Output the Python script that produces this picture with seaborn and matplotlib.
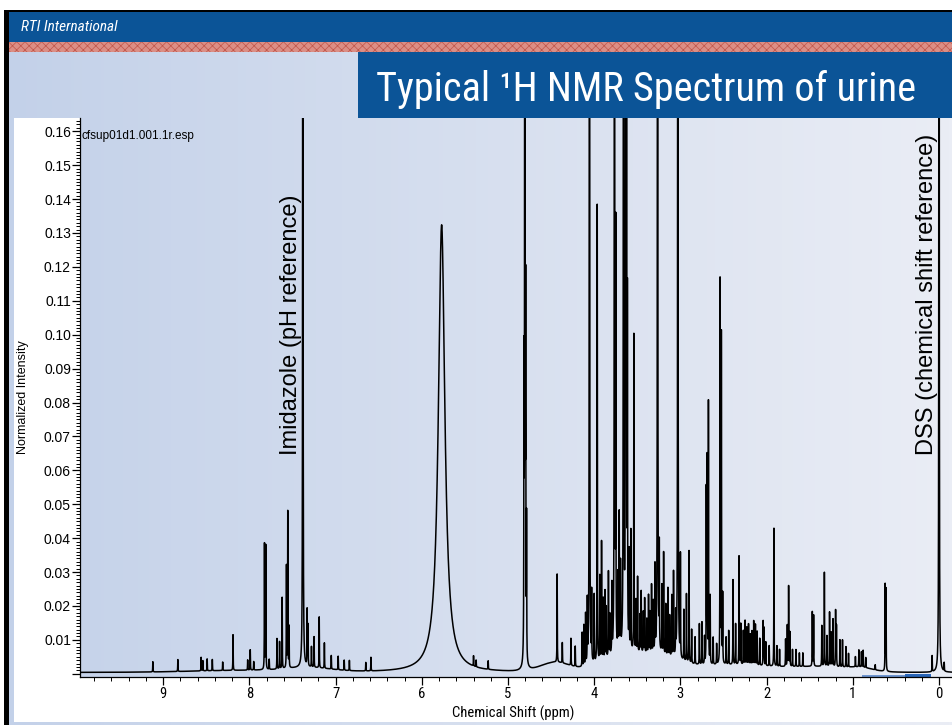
import numpy as np
import pandas as pd
import matplotlib
matplotlib.use("Agg")
import matplotlib.pyplot as plt
import seaborn as sns
from matplotlib import font_manager
from matplotlib.patches import Rectangle
from matplotlib.ticker import MultipleLocator, FixedLocator

# ---------------- data ----------------
peak_ppm = [
    9.12, 8.83, 8.56, 8.54, 8.49, 8.43, 8.31, 8.19, 8.02, 7.99, 7.95,
    7.825, 7.81, 7.77, 7.68, 7.65, 7.62, 7.57, 7.555, 7.54, 7.38, 7.33, 7.32,
    7.28, 7.25, 7.19, 7.13, 7.05, 6.97, 6.90, 6.84, 6.65, 6.59,
    5.77, 5.40, 5.37, 5.23,
    4.815, 4.805, 4.795, 4.785,
    4.43, 4.37, 4.27, 4.22, 4.14, 4.12, 4.10, 4.08, 4.055, 4.03, 4.00,
    3.965, 3.935, 3.915, 3.895, 3.875, 3.86, 3.835, 3.82, 3.795, 3.765, 3.75,
    3.725, 3.71, 3.695, 3.66, 3.635, 3.625, 3.615, 3.595, 3.575, 3.54,
    3.515, 3.497, 3.47, 3.455, 3.43, 3.415, 3.39, 3.37, 3.355, 3.335, 3.315, 3.295,
    3.265, 3.245, 3.215, 3.195, 3.17, 3.145, 3.125, 3.10, 3.08, 3.055, 3.03,
    3.00, 2.96, 2.93, 2.90, 2.87, 2.83, 2.78, 2.75, 2.72, 2.70, 2.69, 2.675,
    2.655, 2.62, 2.58, 2.54, 2.525, 2.51, 2.47, 2.44, 2.39, 2.36, 2.32, 2.30,
    2.27, 2.25, 2.23, 2.21, 2.19, 2.17, 2.15, 2.13, 2.11, 2.08, 2.04, 2.03,
    2.01, 1.97, 1.915, 1.88, 1.85, 1.78, 1.76, 1.745, 1.73, 1.70, 1.66, 1.62,
    1.58, 1.47, 1.455, 1.36, 1.33, 1.30, 1.27, 1.25, 1.23, 1.20, 1.19, 1.15,
    1.12, 1.08, 1.05, 0.97, 0.93, 0.90, 0.88, 0.85, 0.74, 0.625, 0.615,
    0.08, 0.00, -0.06,
]
peak_height = [
    0.0030, 0.0035, 0.0040, 0.0030, 0.0035, 0.0033, 0.0025, 0.0105, 0.0030, 0.0060, 0.0025,
    0.0370, 0.0365, 0.0030, 0.0090, 0.0080, 0.0210, 0.0300, 0.0460, 0.0120, 0.6000, 0.0165, 0.0120,
    0.0060, 0.0090, 0.0150, 0.0075, 0.0040, 0.0040, 0.0030, 0.0030, 0.0025, 0.0040,
    0.1320, 0.0030, 0.0020, 0.0025,
    0.0800, 0.6000, 0.1000, 0.0400,
    0.0260, 0.0060, 0.0080, 0.0060, 0.0100, 0.0120, 0.0150, 0.0180, 0.6000, 0.0200, 0.0200,
    0.1350, 0.0250, 0.0350, 0.0180, 0.0200, 0.0150, 0.0250, 0.0120, 0.0200, 0.6000, 0.1220,
    0.0220, 0.0400, 0.0250, 0.6000, 0.6000, 0.1600, 0.1000, 0.0280, 0.0350, 0.0935,
    0.0150, 0.0220, 0.0110, 0.0180, 0.0120, 0.0160, 0.0100, 0.0170, 0.0120, 0.0200, 0.0150, 0.0250,
    0.6000, 0.0300, 0.0200, 0.0300, 0.0150, 0.0200, 0.0120, 0.0180, 0.0250, 0.0120, 0.6000,
    0.0300, 0.0150, 0.0200, 0.0330, 0.0100, 0.0080, 0.0120, 0.0125, 0.0080, 0.0510, 0.0600, 0.0770,
    0.0200, 0.0080, 0.0060, 0.1130, 0.0970, 0.0200, 0.0080, 0.0100, 0.0250, 0.0120, 0.0320, 0.0120,
    0.0100, 0.0130, 0.0110, 0.0120, 0.0090, 0.0100, 0.0130, 0.0120, 0.0100, 0.0080, 0.0130, 0.0110,
    0.0070, 0.0060, 0.0407, 0.0060, 0.0050, 0.0080, 0.0120, 0.0236, 0.0100, 0.0050, 0.0050, 0.0040,
    0.0040, 0.0160, 0.0150, 0.0120, 0.0277, 0.0090, 0.0160, 0.0100, 0.0140, 0.0165, 0.0120, 0.0080,
    0.0080, 0.0060, 0.0040, 0.0030, 0.0050, 0.0045, 0.0050, 0.0030, 0.0015, 0.0253, 0.0240,
    0.0047, 0.6000, 0.0025,
]
peak_fwhm = [0.09 if p == 5.77 else 0.0035 for p in peak_ppm]

hump_ppm = [8.0, 7.3, 4.45, 3.65, 3.20, 2.40, 1.30, 0.90]
hump_height = [0.0006, 0.0010, 0.0028, 0.0050, 0.0030, 0.0022, 0.0014, 0.0008]
hump_fwhm = [1.5, 0.6, 0.4, 0.6, 0.5, 1.3, 0.8, 0.3]
baseline_offset = 0.0004

ytick_vals = [round(0.01 * i, 2) for i in range(17)]
ytick_labels = [""] + [f"{v:.2f}" for v in ytick_vals[1:]]
xtick_vals = list(range(10))

# ---------------- spectrum from the peak table ----------------
ppm = np.linspace(10.0, -0.2, 20401)
P = np.asarray(peak_ppm)[None, :]
H = np.asarray(peak_height)[None, :]
G = np.asarray(peak_fwhm)[None, :] / 2.0
X = ppm[:, None]
spec = (H * G**2 / ((X - P) ** 2 + G**2)).sum(axis=1)
HP = np.asarray(hump_ppm)[None, :]
HH = np.asarray(hump_height)[None, :]
HS = np.asarray(hump_fwhm)[None, :] / 2.3548
spec += (HH * np.exp(-0.5 * ((X - HP) / HS) ** 2)).sum(axis=1)
spec += baseline_offset
df = pd.DataFrame({"ppm": ppm, "intensity": spec})

# ---------------- fonts ----------------
sns.set_theme(style="white")
names = {f.name for f in font_manager.fontManager.ttflist}
narrow = None
for cand in ["Liberation Sans Narrow", "Roboto Condensed", "Open Sans Condensed", "Arial Narrow"]:
    if cand in names:
        narrow = cand
        break
plt.rcParams["font.family"] = ["Liberation Sans", "DejaVu Sans"]
nfam = [narrow, "Liberation Sans", "DejaVu Sans"] if narrow else ["Liberation Sans", "DejaVu Sans"]
title_size = 29 if narrow else 25.5

W, Hh = 953, 725
fig = plt.figure(figsize=(W / 100, Hh / 100), dpi=100)

# background slide (pixel coordinates)
bg = fig.add_axes([0, 0, 1, 1], zorder=0)
bg.set_xlim(0, W)
bg.set_ylim(Hh, 0)
bg.axis("off")
c_left = np.array([0xC3, 0xD1, 0xE9]) / 255
c_right = np.array([0xEA, 0xED, 0xF5]) / 255
t = np.linspace(0, 1, 256)[None, :, None]
grad = c_left[None, None, :] * (1 - t) + c_right[None, None, :] * t
bg.imshow(grad, extent=[0, W, Hh, 0], aspect="auto", zorder=0)

def rect(x0, y0, x1, y1, **kw):
    bg.add_patch(Rectangle((x0, y0), x1 - x0, y1 - y0, **kw))

rect(0, 0, W, 10, facecolor="white", lw=0, zorder=1)
rect(0, 0, 4, Hh, facecolor="white", lw=0, zorder=1)
rect(4, 10, W, 12, facecolor="black", lw=0, zorder=2)
rect(4, 10, 9, Hh, facecolor="black", lw=0, zorder=2)
header_blue = "#0B5497"
rect(9, 12, W, 42, facecolor=header_blue, lw=0, zorder=2)
plt.rcParams["hatch.linewidth"] = 0.5
rect(9, 42, W, 51.5, facecolor="#DB8E85", edgecolor="#C0554A", hatch="xxxx", lw=0, zorder=2)
rect(358, 51.5, W, 118, facecolor=header_blue, lw=0, zorder=2)
# white margins of the chart picture
rect(14, 118, 80, 721.5, facecolor="white", lw=0, zorder=2)
rect(80, 677, W, 721.5, facecolor="white", lw=0, zorder=2)
# small logo bars peeking behind the spectrum
rect(862, 674.5, 905, 677.5, facecolor="#6E95CF", lw=0, zorder=1)
rect(905, 674, 931, 677.5, facecolor="#2A66B8", lw=0, zorder=1)

fig.text(21 / W, 1 - 27 / Hh, "RTI International", color="white", fontsize=11,
         style="italic", va="center", ha="left", family=nfam)
fig.text(376 / W, 1 - 101 / Hh, "Typical \u00b9H NMR Spectrum of urine", color="white",
         fontsize=title_size, va="baseline", ha="left", family=nfam)

# ---------------- main axes ----------------
ax_l, ax_r, ax_t, ax_b = 80, 953, 118, 676.5
ax = fig.add_axes([ax_l / W, (Hh - ax_b) / Hh, (ax_r - ax_l) / W, (ax_b - ax_t) / Hh], zorder=3)
ax.set_facecolor("none")
sns.lineplot(data=df, x="ppm", y="intensity", ax=ax, color="black", lw=1.1,
             sort=False, estimator=None)
ax.set_xlim(9.965, -0.162)
ax.set_ylim(-0.0008, 0.1639)

for s in ["top", "right"]:
    ax.spines[s].set_visible(False)
for s in ["left", "bottom"]:
    ax.spines[s].set_color("black")
    ax.spines[s].set_linewidth(0.9)

ax.yaxis.set_major_locator(FixedLocator(ytick_vals))
ax.set_yticklabels(ytick_labels, fontsize=10)
ax.yaxis.set_minor_locator(MultipleLocator(0.001))
ax.xaxis.set_major_locator(FixedLocator(xtick_vals))
ax.set_xticklabels([str(v) for v in xtick_vals], fontsize=10.5, family=nfam)
ax.xaxis.set_minor_locator(MultipleLocator(0.2))
ax.tick_params(axis="both", which="major", direction="out", length=5.5, width=0.9,
               color="black", labelcolor="black", left=True, bottom=True)
ax.tick_params(axis="both", which="minor", direction="out", length=2.8, width=0.7,
               color="black", left=True, bottom=True)
ax.tick_params(axis="y", which="major", pad=1)
ax.tick_params(axis="x", which="major", pad=2)

ax.set_xlabel("Chemical Shift (ppm)", fontsize=10.5, family=nfam, color="black")
ax.xaxis.set_label_coords((513 - ax_l) / (ax_r - ax_l), -(713 - ax_b) / (ax_b - ax_t))
ax.xaxis.label.set_va("center")
ax.set_ylabel("Normalized Intensity", fontsize=9, color="black")
ax.yaxis.set_label_coords(-(ax_l - 23) / (ax_r - ax_l), 0.5)
ax.yaxis.label.set_va("center")

ax.text(0.002, 1 - (136 - ax_t) / (ax_b - ax_t), "cfsup01d1.001.1r.esp",
        transform=ax.transAxes, fontsize=8.5, ha="left", va="center", color="black")
ax.text(7.516, 0.1029, "Imidazole (pH reference)", rotation=90, fontsize=17,
        ha="center", va="center", color="black")
ax.text(0.139, 0.1118, "DSS (chemical shift reference)", rotation=90, fontsize=17,
        ha="center", va="center", color="black")

fig.savefig("out.png", dpi=100)
